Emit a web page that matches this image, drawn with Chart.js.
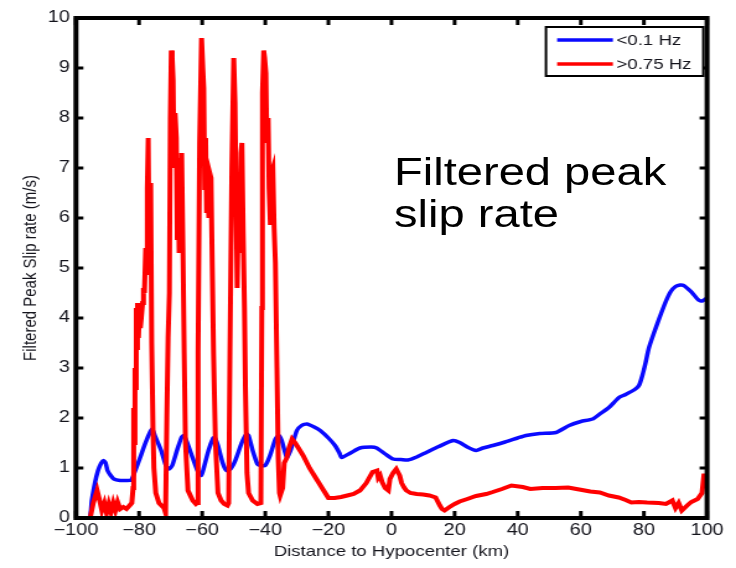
<!DOCTYPE html>
<html>
<head>
    <title>Filtered Peak Slip Rate</title>
    <script src="https://cdn.jsdelivr.net/npm/chart.js"></script>
    <style>
        body {
            margin: 0;
            background-color: #ffffff;
            overflow: hidden;
        }
        /* the figure is laid out 594px wide and stretched to fill 736px */
        #wrap {
            position: relative;
            width: 594px;
            height: 568px;
            transform: scaleX(1.2391);
            transform-origin: 0 0;
        }
        .note {
            position: absolute;
            left: 318px;
            top: 151px;
            font-family: "Liberation Sans", Arial, Helvetica, sans-serif;
            font-size: 38px;
            line-height: 42px;
            color: #000;
            white-space: nowrap;
        }
    </style>
</head>

<body>
    <div id="wrap">
        <canvas id="slipChart" width="594" height="568"></canvas>
        <div class="note">Filtered peak<br>slip rate</div>
    </div>

    <script>
        const seriesLabels = ['<0.1 Hz', '>0.75 Hz'];

        // low-pass filtered (< 0.1 Hz) peak slip rate, m/s
        const lowKm = [-100, -95.8, -95, -94, -93, -92, -91.3, -90.6, -90, -89, -88, -86, -84, -82.5, -81.5,
            -80, -78, -76.5, -75.8, -75, -73, -71.5, -70.5, -69.5, -68, -66.5, -65.8, -65, -63, -61.5,
            -60.3, -59.5, -58, -56.5, -56, -55, -53.5, -52.3, -51, -49.5, -47.5, -46, -45.3, -44, -42.5,
            -41.5, -40, -38.5, -36.8, -35.8, -34.8, -33.2, -32, -30, -28.5, -26.8, -24.5, -22.6, -20,
            -17.9, -16.5, -15.8, -13, -10, -6.5, -4.7, -2, 0.5, 3, 5.2, 8, 11, 15, 19.5, 21.6, 24, 26.8,
            29, 32.1, 36, 40, 42.6, 47, 52.1, 56.3, 60, 63.7, 66, 68.9, 72.1, 74.2, 77.3, 78.5, 79.5,
            80.5, 81.6, 84.2, 86.8, 88.5, 90, 91.5, 92.6, 94, 95.2, 97.3, 98.5, 100];
        const lowRate = [0, 0, 0.35, 0.7, 0.95, 1.1, 1.15, 1.1, 0.95, 0.85, 0.78, 0.75, 0.75, 0.76, 0.9,
            1.15, 1.5, 1.72, 1.78, 1.65, 1.35, 1.05, 0.98, 1.05, 1.35, 1.62, 1.65, 1.55, 1.2, 0.95,
            0.85, 1.0, 1.35, 1.6, 1.61, 1.45, 1.1, 0.95, 0.98, 1.15, 1.5, 1.68, 1.65, 1.35, 1.08,
            1.05, 1.05, 1.25, 1.58, 1.65, 1.55, 1.21, 1.35, 1.75, 1.85, 1.88, 1.82, 1.75, 1.6,
            1.45, 1.3, 1.21, 1.3, 1.4, 1.42, 1.4, 1.28, 1.18, 1.17, 1.16, 1.22, 1.31, 1.43, 1.55, 1.51, 1.42, 1.35,
            1.4, 1.45, 1.52, 1.6, 1.65, 1.69, 1.71, 1.85, 1.93, 1.98, 2.08, 2.21, 2.41, 2.47, 2.58, 2.66, 2.85,
            3.1, 3.41, 3.88, 4.31, 4.53, 4.63, 4.66, 4.65, 4.58, 4.51, 4.36, 4.34, 4.4];

        // high-pass filtered (> 0.75 Hz) peak slip rate, m/s
        const highKm = [-100, -95.5, -94.5, -93.3, -92.5, -91.8, -91, -90.3, -89.6, -88.9, -88.2, -87.5, -86.8,
            -86, -85, -84, -83, -82.3, -81.9, -81.7, -81.5, -81.3, -81.1, -80.9, -80.7, -80.5, -80.2,
            -79.9, -79.6, -79.3, -78.9, -78.6, -78.3, -77.9, -77.7, -77.4, -77.1, -76.9, -76.7, -76.5,
            -76.3, -76, -75.6, -75.3, -74.7, -73.7, -72.1, -71.6,
            -71.2, -70.8, -70.4, -70.1, -69.8, -69.5, -69.2, -68.9, -68.6, -68.2, -67.9, -67.6, -67.3,
            -67, -66.8, -66.5, -66.1, -65.7, -65.3, -64.5, -63, -62, -61.6,
            -61.3, -60.8, -60.2, -59.8, -59.5, -59.2, -58.9, -58.6, -58.2, -57.9, -57.6, -57.2, -56.8,
            -56.4, -55.8, -55, -54, -53, -52, -51.6,
            -51.2, -50.6, -50, -49.6, -49.3, -48.9, -48.5, -48.1, -47.7, -47.4, -47, -46.6, -46.3,
            -45.8, -45.3, -44, -42.5, -41.4,
            -41.1, -40.9, -40.5, -40.2, -39.8, -39.5, -39.1, -38.8, -38.4, -38.1, -37.6, -37.2, -36.8,
            -36.3, -35.9, -35.5, -35.3, -34.5, -34, -33.2, -32.5, -31.5, -30.5, -29.5, -28, -26, -24,
            -22, -20, -18, -16, -14, -12, -10, -8, -6, -4.6, -4.2, -3.6, -3, -2, -1, -0.5, 0.5, 1.5,
            2.6, 3.2, 4, 4.7, 6, 8, 10, 12, 14, 15.3, 16, 16.8, 18.4, 20, 21.6, 24, 26.8, 30, 32.1, 35,
            38, 41.6, 44, 47.9, 52, 56, 59.5, 63, 66, 68.9, 72, 74.2, 76, 78.4, 81, 84.7, 87, 89, 90,
            91, 92, 93.7, 95, 97, 98.4, 99, 99.4, 100];
        const highRate = [0, 0, 0.3, 0.55, 0.35, 0.15, 0.3, 0.1, 0.28, 0.12, 0.3, 0.15, 0.32,
            0.18, 0.22, 0.18, 0.25, 0.3, 0.6, 2.2, 1.5, 3.0, 2.6, 4.2, 3.4, 4.3, 3.6,
            4.1, 3.8, 4.0, 4.3, 4.6, 4.5, 5.4, 4.9, 6.6, 7.6, 6.0, 6.7, 5.2,
            6.7, 3.5, 1.8, 1.0, 0.5, 0.3, 0.2, 0.1,
            2.0, 3.6, 4.5, 8.0, 9.35, 9.2, 8.75, 7.0, 8.1, 7.6, 5.6, 6.9, 5.3,
            7.2, 5.5, 7.3, 5.4, 3.3, 1.5, 0.55, 0.35, 0.28, 0.3,
            3.3, 7.5, 9.6, 9.0, 8.6, 6.6, 7.6, 6.1, 6.5, 6.0, 6.9, 6.8, 5.0,
            3.3, 1.5, 0.5, 0.35, 0.28, 0.25, 0.3,
            3.3, 7.0, 9.2, 8.3, 6.6, 4.6, 6.5, 5.3, 7.3, 7.5, 5.7, 4.2, 2.6,
            0.9, 0.5, 0.35, 0.28, 0.3,
            4.2, 8.5, 9.35, 9.2, 8.9, 7.5, 8.0, 6.6, 5.9, 6.9, 7.0, 5.8, 5.1,
            3.0, 1.2, 0.5, 0.45, 0.6, 1.1, 1.2, 1.4, 1.58, 1.5, 1.4, 1.25, 1.0,
            0.8, 0.6, 0.4, 0.4, 0.42, 0.45, 0.48, 0.55, 0.7, 0.92, 0.95, 0.8, 0.85, 0.72, 0.6, 0.55, 0.78, 0.9,
            0.98, 0.85, 0.7, 0.61, 0.55, 0.5, 0.48, 0.47, 0.45, 0.41, 0.25, 0.18, 0.15, 0.22, 0.28, 0.33, 0.38, 0.44, 0.48, 0.52,
            0.58, 0.65, 0.62, 0.58, 0.6, 0.6, 0.61, 0.57, 0.53, 0.51, 0.45, 0.41, 0.36, 0.31, 0.32, 0.31, 0.3, 0.28, 0.35,
            0.2, 0.3, 0.15, 0.25, 0.32, 0.38, 0.5, 0.85, 0.85];

        const toPoints = (xs, ys) => xs.map((x, i) => ({ x: x, y: ys[i] }));
        const fontFamily = '"Liberation Sans", Arial, Helvetica, sans-serif';
        const inkColor = '#14141c';

        // matlab style box: thick frame with inward ticks on all four sides
        const framePlugin = {
            id: 'frame',
            afterDatasetsDraw(chart) {
                const { ctx, chartArea: a, scales } = chart;
                ctx.save();
                ctx.strokeStyle = '#000';
                ctx.lineWidth = 3;
                const lenX = 7, lenY = 6;
                scales.x.ticks.forEach(t => {
                    const px = scales.x.getPixelForValue(t.value);
                    ctx.beginPath();
                    ctx.moveTo(px, a.bottom); ctx.lineTo(px, a.bottom - lenX);
                    ctx.moveTo(px, a.top); ctx.lineTo(px, a.top + lenX);
                    ctx.stroke();
                });
                scales.y.ticks.forEach(t => {
                    const py = scales.y.getPixelForValue(t.value);
                    ctx.beginPath();
                    ctx.moveTo(a.left, py); ctx.lineTo(a.left + lenY, py);
                    ctx.moveTo(a.right, py); ctx.lineTo(a.right - lenY, py);
                    ctx.stroke();
                });
                ctx.lineWidth = 4;
                ctx.strokeRect(a.left, a.top, a.right - a.left, a.bottom - a.top);
                ctx.restore();
            }
        };

        // boxed legend in the upper right corner of the axes
        const boxLegend = {
            id: 'boxLegend',
            afterDraw(chart) {
                const { ctx, chartArea: a } = chart;
                const w = 127, h = 49;
                const x0 = a.right - 3 - w, y0 = a.top + 9;
                ctx.save();
                ctx.fillStyle = '#fff';
                ctx.fillRect(x0, y0, w, h);
                ctx.strokeStyle = '#000';
                ctx.lineWidth = 2;
                ctx.strokeRect(x0, y0, w, h);
                ctx.font = '15px ' + fontFamily;
                ctx.textBaseline = 'middle';
                chart.data.datasets.forEach((ds, i) => {
                    const yy = y0 + 13 + i * 24;
                    ctx.strokeStyle = ds.borderColor;
                    ctx.lineWidth = 3.5;
                    ctx.beginPath();
                    ctx.moveTo(x0 + 9, yy);
                    ctx.lineTo(x0 + 54, yy);
                    ctx.stroke();
                    ctx.fillStyle = inkColor;
                    ctx.fillText(ds.label, x0 + 57, yy + 1);
                });
                ctx.restore();
            }
        };

        new Chart(document.getElementById('slipChart'), {
            type: 'line',
            data: {
                datasets: [{
                    label: seriesLabels[0],
                    data: toPoints(lowKm, lowRate),
                    borderColor: '#0a0aff',
                    borderWidth: 3.5,
                    pointRadius: 0,
                    tension: 0.2,
                    order: 1
                }, {
                    label: seriesLabels[1],
                    data: toPoints(highKm, highRate),
                    borderColor: '#ff0000',
                    borderWidth: 4,
                    pointRadius: 0,
                    tension: 0,
                    order: 0
                }]
            },
            options: {
                responsive: false,
                animation: false,
                devicePixelRatio: 1,
                layout: { padding: { left: 0, right: 23.4, top: 18, bottom: 0 } },
                plugins: {
                    legend: { display: false },
                    tooltip: { enabled: false }
                },
                scales: {
                    x: {
                        type: 'linear',
                        min: -100,
                        max: 100,
                        afterFit: s => { s.height = 50; },
                        grid: { display: false, drawTicks: false },
                        border: { display: false },
                        ticks: {
                            stepSize: 20,
                            padding: 3,
                            font: { family: fontFamily, size: 16 },
                            color: inkColor,
                            callback: v => (v < 0 ? '\u2212' + Math.abs(v) : String(v))
                        },
                        title: {
                            display: true,
                            text: 'Distance to Hypocenter (km)',
                            color: inkColor,
                            font: { family: fontFamily, size: 15 },
                            padding: { top: 0, bottom: 7 }
                        }
                    },
                    y: {
                        min: 0,
                        max: 10,
                        afterFit: s => { s.width = 61.3; },
                        grid: { display: false, drawTicks: false },
                        border: { display: false },
                        ticks: {
                            stepSize: 1,
                            padding: 5,
                            font: { family: fontFamily, size: 16 },
                            color: inkColor
                        },
                        title: {
                            display: true,
                            text: 'Filtered Peak Slip rate (m/s)',
                            color: inkColor,
                            font: { family: fontFamily, size: 15 },
                            padding: { top: 16, bottom: 0 }
                        }
                    }
                }
            },
            plugins: [framePlugin, boxLegend]
        });
    </script>
</body>
</html>
